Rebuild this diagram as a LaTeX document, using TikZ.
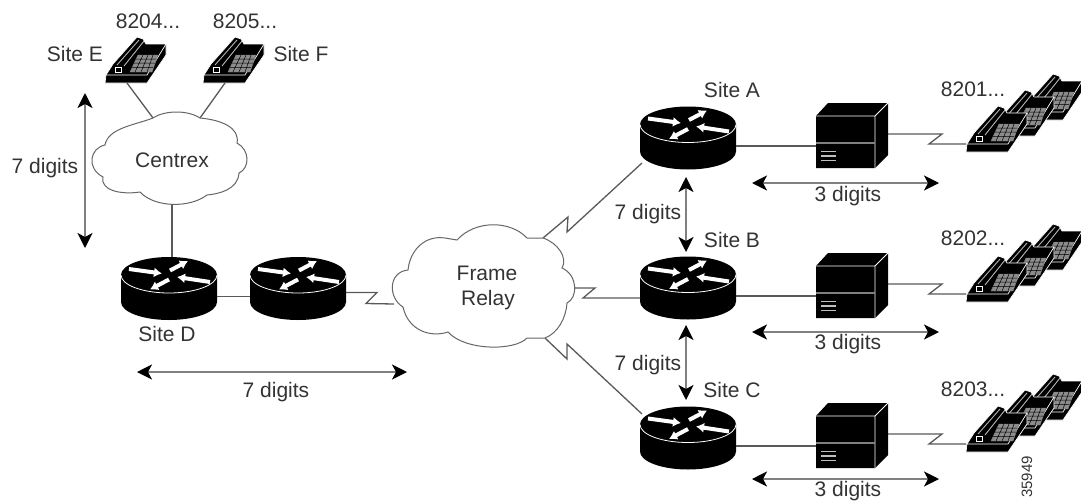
\documentclass[tikz,border=0pt]{standalone}
\usepackage{fontspec}
\setmainfont{Liberation Sans}
\usetikzlibrary{arrows.meta}

\tikzset{
  lbl/.style = {text = black!80, font = \fontsize{21}{25}\selectfont, inner sep = 0pt},
  wire/.style = {draw = black!65, line width = 1.3pt, line join = miter},
  cloudline/.style = {draw = black!60, fill = white, line width = 1pt},
  digittip/.tip = {Stealth[black, length = 15pt, width = 15pt, inset = 4pt]},
  digitspan/.style = {draw = black!50, line width = 1.8pt, digittip-digittip},
  routerflow/.style = {white, line width = 4pt, -{Latex[length = 8pt, width = 10pt]}},
  router/.pic = {
    \fill[black] (-48,-13.5) -- (-48,13.5) arc[start angle = 180, end angle = 0, x radius = 48, y radius = 18] -- (48,-13.5) -- cycle;
    \fill[black] (0,-13.5) ellipse[x radius = 48, y radius = 18];
    \draw[white, line width = 0.8pt] (-48,-13.5) arc[start angle = 180, end angle = 0, x radius = 48, y radius = 18];
    \draw[routerflow] (-40,-19.5) -- (-7,-15);
    \draw[routerflow] (1,-18) -- (19,-27.5);
    \draw[routerflow] (0,-9) -- (-19,1);
    \draw[routerflow] (41,-6.5) -- (8,-11.5);
    \node[inner sep = 0pt, minimum width = 96pt, minimum height = 63pt] (-box) at (0,0) {};
    \coordinate (-l) at (-48,8);
    \coordinate (-r) at (48,8);
    \coordinate (-sw) at (-46,25);
    \coordinate (-nw) at (-46,-24);
  },
  pbx/.pic = {
    \fill[black] (-36,-19.5) -- (-24,-32.5) -- (36,-32.5) -- (36,19.5) -- (23,32.5) -- (-36,32.5) -- cycle;
    \draw[white, line width = 0.8pt] (-36,-19.5) -- (23,-19.5) -- (23,32.5) (23,-19.5) -- (36,-32.5);
    \draw[black!50, line width = 1.5pt] (-36,7.5) -- (23,7.5);
    \draw[white!75!black, line width = 1.6pt] (-31,16) -- (-16,16) (-31,20.5) -- (-16,20.5) (-31,25) -- (-16,25);
    \node[inner sep = 0pt, minimum width = 72pt, minimum height = 65pt] (-box) at (0,0) {};
    \coordinate (-l) at (-36,10.5);
    \coordinate (-r) at (36,-1.5);
  },
  phone/.pic = {
    \filldraw[draw = white, fill = black, line width = 0.7pt] (0,0) -- (42,0) -- (61,-28) -- (61,-39) -- (41,-39) -- (38,-44) -- (32,-46) -- (8,-19) -- (1,-8) -- cycle;
    \draw[white, line width = 0.7pt] (1,-8) -- (42,-8) -- (61,-39);
    \draw[black!30, line width = 0.9pt] (12,-18) -- (34,-43) (19,-17) -- (39,-42);
    \draw[white, line width = 0.8pt] (10,-11) rectangle (16,-16);
    \filldraw[draw = black!50, fill = black!45, line width = 0.4pt] (25,-11) -- (47,-11) -- (53,-28) -- (33,-28) -- cycle;
    \draw[black, line width = 0.5pt] (27,-15.5) -- (48,-15.5) (29,-20) -- (50,-20) (31,-24) -- (51,-24) (30,-11) -- (38,-28) (36,-11) -- (43,-28) (42,-11) -- (48,-28);
    \coordinate (-b) at (22,0);
  },
  phonebank/.pic = {
    \pic at (55,-32) {phone};
    \pic at (27,-16) {phone};
    \pic at (0,0) {phone};
    \coordinate (-in) at (0,-8);
  },
}

\begin{document}
\begin{tikzpicture}[x = 1pt, y = -1pt]
\useasboundingbox (0,0) rectangle (1081,501);

\pic (PE) at (105,83) {phone};
\pic (PF) at (203,83) {phone};
\pic (RD) at (169,288.5) {router};
\pic (RX) at (298,288.5) {router};
\pic (RA) at (688,138) {router};
\pic (RB) at (688,288) {router};
\pic (RC) at (688,438) {router};
\pic (BA) at (852,135.5) {pbx};
\pic (BB) at (852,285.5) {pbx};
\pic (BC) at (852,435.5) {pbx};
\pic (PA) at (966,152) {phonebank};
\pic (PB) at (966,302) {phonebank};
\pic (PC) at (966,452) {phonebank};

\coordinate (CXe) at (153,118);
\coordinate (CXf) at (200,118);
\coordinate (CXd) at (172,203);
\coordinate (FRw) at (394,304);
\coordinate (FRa) at (543,238);
\coordinate (FRb) at (573,288);
\coordinate (FRc) at (545,338);
\coordinate (RBin) at (640,298);

\draw[wire] (PE-b) -- (CXe);
\draw[wire] (PF-b) -- (CXf);
\draw[wire] (CXd) -- (RD-box.north -| CXd);
\draw[wire] (RD-r) -- (RX-l);
\draw[wire] (RX-r) ++(0,-4) -- ++(31,0) -- ++(-11,11) -- (FRw);
\draw[wire] (FRa) -- ++(25,-21) -- ++(-1,15) -- (RA-sw);
\draw[wire] (FRb) -- ++(22,0) -- ++(-12,10) -- (RBin);
\draw[wire] (FRc) -- ++(22,21) -- ++(0,-15) -- (RC-nw);
\draw[wire] (RA-r) -- (BA-l);
\draw[wire] (RB-r) -- (BB-l);
\draw[wire] (RC-r) -- (BC-l);
\draw[wire] (BA-r) -- ++(54,0) -- ++(-13,10) -- (PA-in);
\draw[wire] (BB-r) -- ++(54,0) -- ++(-13,10) -- (PB-in);
\draw[wire] (BC-r) -- ++(54,0) -- ++(-13,10) -- (PC-in);

\draw[cloudline] (153,118) .. controls (165,110) and (188,110) .. (200,118)
.. controls (222,120) and (240,128) .. (237,143)
.. controls (250,150) and (250,168) .. (239,173)
.. controls (238,190) and (218,194) .. (207,195)
.. controls (190,208) and (155,208) .. (140,192)
.. controls (120,195) and (100,190) .. (103,177)
.. controls (86,168) and (90,148) .. (105,145)
.. controls (108,128) and (135,125) .. (153,118) -- cycle;

\draw[cloudline] (457,240) .. controls (475,220) and (510,220) .. (527,238) -- (543,238)
.. controls (558,243) and (568,258) .. (562,268)
.. controls (578,275) and (578,298) .. (567,303)
.. controls (566,318) and (558,333) .. (545,338) -- (527,338)
.. controls (515,351) and (465,351) .. (448,332)
.. controls (430,338) and (408,330) .. (403,307)
.. controls (388,298) and (388,272) .. (408,270)
.. controls (410,250) and (425,235) .. (445,238) -- cycle;

\coordinate (DLa) at (85,93);
\coordinate (DLb) at (85,248);
\coordinate (DBa) at (137,372);
\coordinate (DBb) at (407,372);
\coordinate (DAa) at (686,177);
\coordinate (DAb) at (686,252);
\coordinate (DCa) at (686,325);
\coordinate (DCb) at (686,400);
\coordinate (TAa) at (752,183);
\coordinate (TAb) at (939,183);
\coordinate (TBa) at (752,332);
\coordinate (TBb) at (939,332);
\coordinate (TCa) at (752,479);
\coordinate (TCb) at (939,479);
\draw[digitspan] (DLa) -- (DLb);
\draw[digitspan] (DBa) -- (DBb);
\draw[digitspan] (DAa) -- (DAb);
\draw[digitspan] (DCa) -- (DCb);
\draw[digitspan] (TAa) -- (TAb);
\draw[digitspan] (TBa) -- (TBb);
\draw[digitspan] (TCa) -- (TCb);

\node[lbl] (N8204) at (148,21) {8204...};
\node[lbl] (N8205) at (245,21) {8205...};
\node[lbl] (SE) at (75,54) {Site E};
\node[lbl] (SF) at (301,54) {Site F};
\node[lbl] (CX) at (172,160) {Centrex};
\node[lbl] (SD) at (167,334) {Site D};
\node[lbl] (FR1) at (487,273) {Frame};
\node[lbl] (FR2) at (488,300) {Relay};
\node[lbl] (SA) at (732,90) {Site A};
\node[lbl] (SB) at (732,240) {Site B};
\node[lbl] (SC) at (732,390) {Site C};
\node[lbl] (DL) at (45,168) {7 digits};
\node[lbl] (DB) at (276,392) {7 digits};
\node[lbl] (DA) at (648,214) {7 digits};
\node[lbl] (DC) at (648,365) {7 digits};
\node[lbl] (TA) at (848,196) {3 digits};
\node[lbl] (TB) at (848,344) {3 digits};
\node[lbl] (TC) at (848,491) {3 digits};
\node[lbl] (N8201) at (973,89) {8201...};
\node[lbl] (N8202) at (973,238) {8202...};
\node[lbl] (N8203) at (973,389) {8203...};
\node[lbl, font = \fontsize{15}{18}\selectfont, rotate = 90] (FIG) at (1027,477) {35949};
\end{tikzpicture}
\end{document}
